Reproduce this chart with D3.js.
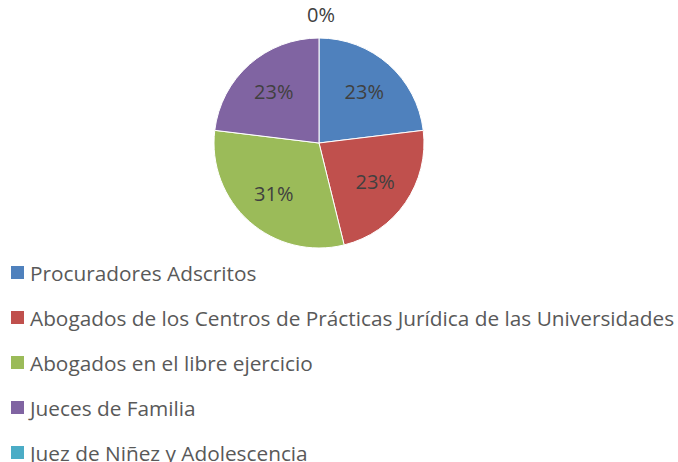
<!DOCTYPE html>
<html>
<head>
<meta charset="utf-8">
<script src="https://cdn.jsdelivr.net/npm/d3@7.9.0/dist/d3.min.js"></script>
<style>
  body { margin: 0; background: #fff; }
  svg { display: block; font-family: 'Open Sans', sans-serif; }
</style>
</head>
<body>
<div id="chart"></div>
<script>
const categories = [
  'Procuradores Adscritos',
  'Abogados de los Centros de Prácticas Jurídica de las Universidades',
  'Abogados en el libre ejercicio',
  'Jueces de Familia',
  'Juez de Niñez y Adolescencia',
];
const values = [3, 3, 4, 3, 0];
const colors = ['#4F81BD', '#C0504D', '#9BBB59', '#8064A2', '#4BACC6'];

const width = 678;
const height = 462;
const cx = 319;
const cy = 143;
const radius = 105;

const data = categories.map((name, i) => ({ name, value: values[i], color: colors[i] }));
const total = d3.sum(values);
const pct = d3.format('.0%');

const svg = d3
  .select('#chart')
  .append('svg')
  .attr('width', width)
  .attr('height', height);

const pie = d3.pie().sort(null).value((d) => d.value);
const arcs = pie(data);

const arc = d3.arc().innerRadius(0).outerRadius(radius);
const labelArc = d3.arc().innerRadius(radius * 0.65).outerRadius(radius * 0.65);
const outerArc = d3.arc().innerRadius(radius + 23).outerRadius(radius + 23);

const g = svg.append('g').attr('transform', `translate(${cx}, ${cy})`);

g.selectAll('path')
  .data(arcs)
  .join('path')
  .attr('d', arc)
  .attr('fill', (d) => d.data.color)
  .attr('stroke', '#fff')
  .attr('stroke-width', (d) => (d.value > 0 ? 1 : 0));

g.selectAll('text.label')
  .data(arcs)
  .join('text')
  .attr('class', 'label')
  .attr('transform', (d) => {
    const [x, y] = d.value > 0 ? labelArc.centroid(d) : outerArc.centroid(d);
    return `translate(${x + (d.value > 0 ? 0 : 2)}, ${y})`;
  })
  .attr('text-anchor', 'middle')
  .attr('dy', '0.35em')
  .attr('fill', '#404040')
  .style('font-size', '20px')
  .text((d) => pct(d.value / total));

const legend = svg
  .append('g')
  .selectAll('g')
  .data(data)
  .join('g')
  .attr('transform', (d, i) => `translate(11, ${266 + i * 45})`);

legend
  .append('rect')
  .attr('width', 13)
  .attr('height', 13)
  .attr('fill', (d) => d.color);

legend
  .append('text')
  .attr('x', 19)
  .attr('y', 15)
  .attr('fill', '#595959')
  .style('font-size', '20.8px')
  .text((d) => d.name);
</script>
</body>
</html>
